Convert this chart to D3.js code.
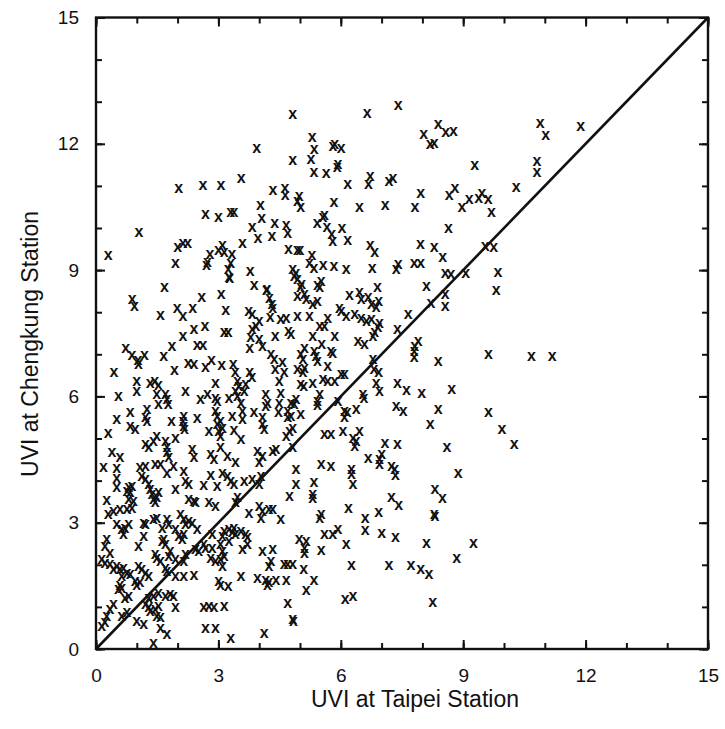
<!DOCTYPE html>
<html>
<head>
<meta charset="utf-8">
<script src="https://cdn.jsdelivr.net/npm/d3@7/dist/d3.min.js"></script>
<style>
body { margin: 0; background: #fff; }
text { font-family: "Liberation Sans", Arial, Helvetica, sans-serif; }
</style>
</head>
<body>
<div id="chart-area"></div>
<script>
// daily UVI pairs: [Taipei, Chengkung]
var obs = [
[4.82,12.68],[3.94,11.87],[4.82,11.59],[3.56,11.16],[2.62,11.00],[3.06,11.00],[2.03,10.92],[4.34,10.88],
[4.63,10.92],[4.64,10.77],[4.03,10.52],[2.68,10.32],[3.00,10.25],[3.30,10.36],[3.38,10.35],[4.06,10.21],
[3.83,10.01],[4.38,10.11],[4.66,10.05],[4.70,9.86],[1.05,9.89],[3.97,9.75],[4.31,9.78],[0.30,9.33],
[2.00,9.53],[2.13,9.62],[2.25,9.62],[3.59,9.62],[4.72,9.48],[1.95,9.14],[2.73,9.18],[2.79,9.36],
[2.71,9.10],[3.00,9.46],[3.10,9.57],[3.14,9.41],[3.33,9.36],[3.30,9.16],[3.24,9.00],[3.26,8.82],
[3.28,8.80],[3.78,8.95],[4.82,9.00],[4.86,8.84],[1.68,8.59],[3.88,8.62],[4.19,8.54],
[7.41,12.90],[6.65,12.71],[8.39,12.45],[8.57,12.25],[8.76,12.29],[8.03,12.21],[8.19,11.97],[8.29,12.01],
[5.30,12.13],[5.35,11.85],[5.81,11.93],[5.85,11.97],[6.01,11.87],[5.27,11.62],[5.34,11.31],[5.64,11.28],
[5.93,11.50],[5.91,11.43],[6.17,11.02],[6.72,11.22],[6.68,11.03],[7.18,11.10],[7.28,11.16],[9.28,11.47],
[7.96,10.82],[8.66,10.76],[8.80,10.92],[9.15,10.67],[8.97,10.49],[9.38,10.70],[9.46,10.82],[9.61,10.67],
[9.69,10.35],[4.98,10.74],[4.94,10.63],[5.02,10.47],[5.83,10.59],[6.46,10.47],[7.09,10.52],[7.82,10.47],
[5.60,10.28],[5.56,10.25],[5.42,10.10],[5.66,10.01],[5.78,9.83],[5.80,9.68],[6.03,9.97],[6.17,9.70],
[8.64,9.97],[4.94,9.46],[5.00,9.45],[5.29,9.33],[5.23,9.16],[5.34,9.04],[5.57,9.10],[5.83,9.07],
[6.13,9.00],[6.72,9.57],[6.83,9.41],[6.77,9.04],[7.41,9.12],[7.36,9.00],[7.95,9.60],[8.29,9.52],
[8.50,9.28],[7.80,9.14],[7.96,9.16],[8.56,8.92],[8.70,8.88],[9.54,9.56],[9.06,8.91],[4.90,8.92],
[4.94,8.76],[5.04,8.65],[5.52,8.73],[5.43,8.62],[6.90,8.57],[8.10,8.61],
[10.89,12.47],[11.02,12.19],[11.88,12.41],[10.81,11.57],[10.81,11.30],
[10.30,10.96],[9.75,9.52],[9.85,8.94],[9.81,8.51],[10.67,6.93],[11.18,6.94],[9.95,5.20],[10.25,4.85],
[0.89,8.29],[0.94,8.13],[1.58,7.91],[1.99,8.09],[2.13,7.89],[2.37,8.08],[2.59,8.34],[3.07,8.41],
[3.18,8.03],[4.18,8.50],[4.25,8.31],[4.31,8.17],[4.33,8.09],[3.74,8.00],[3.83,7.93],[4.00,7.77],
[3.92,7.66],[4.27,7.87],[4.53,7.81],[4.66,7.85],[4.72,7.54],[4.78,7.46],[2.40,7.59],[2.67,7.66],
[3.14,7.50],[3.24,7.50],[3.83,7.58],[3.79,7.38],[3.77,7.14],[4.00,7.34],[4.08,7.18],[4.39,7.42],
[2.13,7.42],[1.86,7.18],[2.48,7.20],[2.62,7.20],[0.73,7.12],[0.88,6.96],[1.03,6.84],[1.04,6.75],
[1.19,6.97],[1.66,6.95],[4.29,6.98],[4.37,6.86],[4.57,6.79],[4.61,6.57],[4.39,6.63],[0.44,6.55],
[1.92,6.60],[2.26,6.77],[2.40,6.76],[2.83,6.84],[2.68,6.68],[3.08,6.73],[3.36,6.75],[3.41,6.55],
[3.77,6.55],[3.82,6.43],[1.00,6.35],[1.00,6.10],[1.33,6.31],[1.44,6.35],[1.53,6.25],[2.93,6.29],
[2.19,6.11],[3.47,6.35],[3.50,6.23],[3.42,6.11],[3.47,5.99],[3.67,6.27],[3.63,6.11],[4.49,6.35],
[4.53,6.07],[0.55,5.99],[1.49,6.03],[1.53,5.80],[1.70,6.03],[1.74,5.91],[1.77,5.80],[2.56,5.91],
[2.73,6.03],[2.93,5.95],[2.97,5.87],[3.26,5.95],[3.55,5.83],[4.16,6.03],[4.20,5.83],[4.16,5.75],
[4.49,5.83],[4.78,5.83],[1.25,5.68],[0.84,5.62],[1.21,5.48],[1.25,5.40],[0.51,5.44],[2.15,5.52],
[2.13,5.40],[2.15,5.28],[2.17,5.20],[1.85,5.40],[2.48,5.46],[2.93,5.64],[2.97,5.52],[3.05,5.40],
[3.10,5.24],[3.01,5.16],[2.97,5.32],[3.34,5.52],[3.59,5.64],[3.59,5.44],[3.87,5.60],[4.08,5.48],
[4.08,5.32],[4.12,5.20],[4.47,5.60],[4.70,5.64],[4.70,5.48],[0.84,5.28],[0.96,5.20],[0.30,5.11],
[2.77,5.16],[3.38,5.18],[3.55,4.96],[4.74,5.16],[4.66,5.04],[1.49,5.04],[1.41,4.93],[1.21,4.85],
[1.29,4.77],[1.70,4.93],[1.74,4.77],[1.74,4.65],[1.78,4.53],[1.95,5.00],[3.05,5.04],[3.05,4.77],
[2.36,4.73],[2.40,4.53],[0.39,4.65],[0.59,4.53],[2.81,4.61],[2.89,4.49],[3.22,4.57],[3.42,4.41],
[3.96,4.69],[4.08,4.57],[4.00,4.41],[4.33,4.69],[4.41,4.73],[0.18,4.31],[0.51,4.29],[1.08,4.31],
[1.21,4.33],[1.45,4.37],[1.58,4.37],[1.90,4.33],[2.15,4.21],
[5.01,8.57],[5.11,8.41],[4.94,8.37],[5.15,8.29],[5.48,8.57],[5.31,8.17],[5.43,8.25],[6.21,8.39],
[6.46,8.45],[6.50,8.29],[6.67,8.33],[6.75,8.17],[6.87,8.11],[6.93,8.25],[8.21,8.21],[8.56,8.41],
[8.56,8.13],[4.94,7.88],[5.23,7.88],[5.68,7.85],[5.97,8.08],[6.01,8.01],[6.13,7.88],[6.34,7.93],
[6.50,7.85],[6.63,7.77],[6.75,7.81],[6.95,7.73],[6.91,7.62],[6.83,7.50],[6.79,7.42],[7.65,7.93],
[7.39,7.58],[5.48,7.66],[5.60,7.66],[5.85,7.42],[5.31,7.42],[5.11,7.14],[5.02,6.98],[5.07,6.86],
[5.53,7.22],[5.35,7.06],[5.39,6.95],[5.43,6.81],[5.76,7.06],[5.80,7.02],[6.42,7.30],[6.58,7.22],
[7.90,7.30],[7.81,7.18],[7.80,7.06],[7.80,6.92],[9.62,6.98],[8.39,6.82],[6.79,6.86],[5.68,6.71],
[4.94,6.63],[5.07,6.57],[5.11,6.66],[6.81,6.63],[6.93,6.55],[6.01,6.52],[6.09,6.51],[5.56,6.39],
[5.68,6.35],[5.85,6.35],[5.31,6.31],[5.02,6.27],[5.09,6.23],[6.87,6.31],[6.95,6.11],[7.39,6.29],
[7.61,6.13],[7.98,6.07],[8.72,6.15],[6.54,6.03],[6.57,5.95],[5.48,6.03],[5.43,5.87],[5.43,5.78],
[4.90,5.91],[4.86,5.80],[4.78,5.52],[5.02,5.56],[5.93,5.87],[6.09,5.64],[6.09,5.48],[6.16,5.60],
[6.38,5.68],[7.36,5.76],[7.53,5.64],[8.39,5.68],[9.62,5.60],[8.19,5.32],[4.82,5.24],[5.60,5.08],
[5.76,5.08],[6.05,5.16],[6.46,5.16],[6.30,5.00],[6.38,4.93],[6.34,4.81],[7.08,4.88],[7.39,4.85],
[8.60,4.78],[4.82,4.77],[7.00,4.61],[6.95,4.49],[6.95,4.37],[6.67,4.51],[5.52,4.37],[5.76,4.33],
[6.26,4.25],[7.24,4.33],[7.32,4.25],[4.90,4.25],[8.88,4.17],
[0.51,4.05],[0.51,3.82],[0.26,3.52],[0.80,3.82],[0.84,3.70],[0.76,3.74],[0.88,3.86],[0.80,3.54],
[0.92,3.50],[0.88,3.34],[0.76,3.30],[0.43,3.26],[0.59,3.30],[0.30,3.18],[1.12,4.09],[1.21,4.01],
[1.29,3.90],[1.33,3.78],[1.37,3.66],[1.41,3.54],[1.45,3.46],[1.49,3.58],[1.53,3.70],[1.74,4.17],
[1.95,3.79],[2.19,3.97],[2.27,3.90],[2.81,4.11],[2.64,3.87],[2.97,3.85],[3.10,4.16],[3.22,4.09],
[3.30,3.97],[3.38,3.90],[3.63,3.97],[3.83,4.01],[4.04,4.09],[4.00,3.90],[2.27,3.54],[2.40,3.50],
[2.44,3.46],[2.77,3.46],[2.93,3.38],[3.47,3.58],[3.42,3.46],[3.75,3.22],[4.00,3.38],[4.08,3.26],
[4.24,3.30],[4.33,3.30],[4.04,3.10],[4.53,3.06],[4.74,3.62],[0.51,2.94],[0.63,2.83],[0.71,2.86],
[0.80,2.94],[0.67,2.71],[0.26,2.59],[0.22,2.43],[0.34,2.27],[1.17,2.98],[1.21,2.94],[1.41,3.06],
[1.49,3.10],[1.74,3.06],[1.78,2.94],[1.62,2.86],[1.66,2.59],[1.70,2.47],[1.62,2.55],[1.17,2.67],
[1.04,2.43],[2.07,3.18],[2.15,3.06],[2.27,3.02],[2.36,2.98],[2.19,2.94],[1.95,2.83],[2.03,2.67],
[2.11,2.59],[2.15,2.71],[2.48,2.83],[1.82,2.31],[1.78,2.19],[1.95,2.11],[1.45,2.23],[1.49,2.15],
[1.58,2.07],[2.19,2.23],[2.15,2.07],[2.44,2.35],[2.52,2.31],[2.64,2.47],[2.68,2.39],[2.85,2.39],
[2.85,2.71],[3.10,2.67],[3.14,2.79],[3.26,2.83],[3.34,2.75],[3.38,2.86],[3.42,2.71],[3.55,2.79],
[3.67,2.71],[3.71,2.63],[3.05,2.47],[3.10,2.31],[3.14,2.19],[3.05,2.11],[3.10,1.95],[2.81,2.15],
[2.93,2.07],[3.59,2.35],[3.71,2.47],[3.26,2.55],[4.08,2.31],[4.33,2.35],[4.24,1.95],[4.29,2.07],
[4.61,1.99],[4.70,1.99],[3.55,1.72],[3.96,1.67],[4.16,1.63],[4.24,1.56],[4.20,1.51],[4.41,1.63],
[4.66,1.63],[3.01,1.60],[3.05,1.51],[3.24,1.48],[1.95,1.72],[2.15,1.72],[2.40,1.73],[1.70,1.91],
[1.74,1.83],[0.14,2.11],[0.22,2.03],[0.34,1.99],[0.43,1.87],[0.51,1.95],[0.59,1.87],[0.67,1.91],
[0.76,1.79],[0.84,1.75],[0.63,1.72],[1.04,1.95],[1.12,1.87],[1.21,1.79],[1.29,1.72],[0.96,1.60],
[1.00,1.51],[1.08,1.56],[0.59,1.51],[0.63,1.44],[0.55,1.40],[0.80,1.24],[0.71,1.20],[1.29,1.20],
[1.41,1.24],[1.53,1.32],[1.70,1.24],[1.82,1.28],[1.90,1.24],[0.43,1.05],[0.34,0.93],[0.26,0.77],
[0.22,0.61],[0.14,0.53],[0.76,0.85],[0.63,0.77],[1.21,1.05],[1.29,0.97],[1.33,0.89],[1.45,0.93],
[1.49,0.77],[1.58,0.73],[1.53,1.01],[1.95,0.97],[1.00,0.65],[1.17,0.57],[1.58,0.49],[1.74,0.33],
[1.41,0.13],[2.64,0.97],[2.77,1.01],[2.89,0.97],[3.14,1.01],[2.68,0.49],[2.93,0.47],[3.30,0.25],
[4.12,0.37],[4.70,1.08],[4.82,0.69],
[6.26,4.13],[7.34,4.11],[4.90,3.90],[5.34,3.95],[5.31,3.66],[5.31,3.56],[6.30,3.90],[8.31,3.79],
[8.49,3.56],[7.24,3.58],[7.42,3.40],[6.19,3.34],[5.52,3.18],[5.48,3.10],[6.60,3.10],[6.93,3.24],
[8.31,3.14],[8.29,3.18],[5.93,2.84],[5.80,2.71],[5.60,2.71],[6.60,2.80],[7.00,2.74],[7.34,2.64],
[4.98,2.59],[5.15,2.55],[5.11,2.39],[5.11,2.27],[5.52,2.33],[6.13,2.47],[8.10,2.49],[9.25,2.49],
[8.84,2.15],[4.82,1.99],[5.09,1.89],[6.26,1.97],[7.18,1.98],[7.72,1.97],[7.96,1.88],[8.16,1.76],
[5.34,1.61],[5.15,1.38],[6.11,1.16],[6.30,1.24],[8.25,1.10],[4.84,0.65]
];

var majorTicks = [0, 3, 6, 9, 12, 15];
var minorTicks = d3.range(0, 16);

var W = 725, H = 729;
var padL = 96, padR = 708, padT = 17.5, padB = 649;

var svg = d3.select("#chart-area").append("svg")
    .attr("width", W)
    .attr("height", H);

var x = d3.scaleLinear().domain([0, 15]).range([padL, padR]);
var y = d3.scaleLinear().domain([0, 15]).range([padB, padT]);

// ticks on all four sides, pointing in; longer at the labelled values
function ticks(g, axis, vals, len) {
    g.call(axis.tickValues(vals).tickSize(-len).tickSizeOuter(0).tickFormat(""));
    g.select(".domain").remove();
}
[[minorTicks, 6], [majorTicks, 9]].forEach(function(t){
    svg.append("g").attr("transform", "translate(0," + padB + ")").call(ticks, d3.axisBottom(x), t[0], t[1]);
    svg.append("g").attr("transform", "translate(0," + padT + ")").call(ticks, d3.axisTop(x), t[0], t[1]);
    svg.append("g").attr("transform", "translate(" + padL + ",0)").call(ticks, d3.axisLeft(y), t[0], t[1]);
    svg.append("g").attr("transform", "translate(" + padR + ",0)").call(ticks, d3.axisRight(y), t[0], t[1]);
});
svg.selectAll(".tick line").attr("stroke", "#111").attr("stroke-width", 2);

// tick labels
var xAxis = svg.append("g")
    .attr("transform", "translate(0," + padB + ")")
    .call(d3.axisBottom(x).tickValues(majorTicks).tickSize(0).tickPadding(20));
var yAxis = svg.append("g")
    .attr("transform", "translate(" + padL + ",0)")
    .call(d3.axisLeft(y).tickValues(majorTicks).tickSize(0).tickPadding(17));
[xAxis, yAxis].forEach(function(g){
    g.select(".domain").remove();
    g.selectAll("text").attr("font-size", 19).attr("fill", "#111")
        .attr("font-family", "'Liberation Sans', Arial, sans-serif");
});

// frame
svg.append("rect")
    .attr("x", padL).attr("y", padT)
    .attr("width", padR - padL).attr("height", padB - padT)
    .attr("fill", "none").attr("stroke", "#111").attr("stroke-width", 2.4);

// 1:1 line
svg.append("line")
    .attr("x1", x(0)).attr("y1", y(0))
    .attr("x2", x(15)).attr("y2", y(15))
    .attr("stroke", "#111").attr("stroke-width", 2.6);

// markers
svg.append("g").selectAll("text")
    .data(obs)
    .enter().append("text")
    .attr("x", function(d){ return x(d[0]); })
    .attr("y", function(d){ return y(d[1]); })
    .attr("dy", "0.26em")
    .attr("text-anchor", "middle")
    .attr("font-size", 16)
    .attr("font-weight", "bold")
    .attr("fill", "#111")
    .text("x");

// axis titles
svg.append("text")
    .attr("x", 415)
    .attr("y", 707)
    .attr("text-anchor", "middle")
    .attr("font-size", 23)
    .attr("fill", "#111")
    .text("UVI at Taipei Station");

svg.append("text")
    .attr("transform", "translate(38,344) rotate(-90)")
    .attr("text-anchor", "middle")
    .attr("font-size", 23)
    .attr("fill", "#111")
    .text("UVI at Chengkung Station");
</script>
</body>
</html>
